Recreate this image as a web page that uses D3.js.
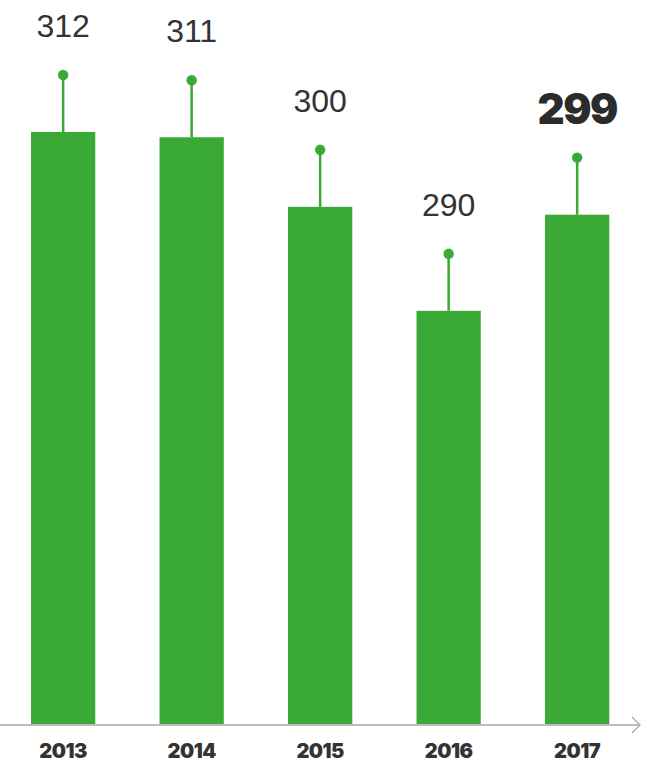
<!DOCTYPE html>
<html>
<head>
<meta charset="utf-8">
<script src="https://cdn.jsdelivr.net/npm/d3@7"></script>
<style>
  html, body { margin: 0; padding: 0; background: #fff; }
  svg { display: block; }
</style>
</head>
<body>
<svg id="chart" width="647" height="762"></svg>
<script>
// Yearly values
const years = ["2013", "2014", "2015", "2016", "2017"];
const values = [312, 311, 300, 290, 299];
const highlightYear = "2017";

const baseY = 724;
const green = "#3aa935";
const ink = "#333333";
const heavyFont = "Inter, 'Open Sans', sans-serif";

const svg = d3.select("#chart");

const x = d3.scaleBand()
  .domain(years)
  .range([-1.1, 641.4])
  .paddingInner(0.5)
  .paddingOuter(0.25);

// Compressed value axis: bar height grows with (value - floor) ^ 0.253
const floor = 283;
const y = d3.scalePow()
  .exponent(0.253)
  .domain([0, 312 - floor])
  .range([baseY, baseY - 592]);
const yv = v => y(v - floor);

const stemLen = 57;
const data = years.map((yr, i) => ({ year: yr, value: values[i] }));

// Bars
svg.append("g").selectAll("rect")
  .data(data)
  .join("rect")
  .attr("x", d => x(d.year))
  .attr("y", d => yv(d.value))
  .attr("width", x.bandwidth())
  .attr("height", d => baseY - yv(d.value))
  .attr("fill", green);

// Pins above each bar
const pins = svg.append("g").selectAll("g")
  .data(data)
  .join("g")
  .attr("transform", d => `translate(${x(d.year) + x.bandwidth() / 2},${yv(d.value)})`);

pins.append("line")
  .attr("x1", 0).attr("x2", 0)
  .attr("y1", 0).attr("y2", -stemLen)
  .attr("stroke", green)
  .attr("stroke-width", 2.5);

pins.append("circle")
  .attr("cx", 0).attr("cy", -stemLen)
  .attr("r", 5.2)
  .attr("fill", green);

// Value labels
pins.append("text")
  .attr("x", 0)
  .attr("y", d => d.year === highlightYear ? -stemLen - 34 : -stemLen - 38)
  .attr("text-anchor", "middle")
  .attr("fill", d => d.year === highlightYear ? "#2b2b2b" : ink)
  .attr("font-family", d => d.year === highlightYear ? heavyFont : "'Liberation Sans', Arial, sans-serif")
  .attr("font-weight", d => d.year === highlightYear ? 900 : 400)
  .attr("font-style", "normal")
  .attr("font-size", d => d.year === highlightYear ? 42 : 32)
  .attr("letter-spacing", d => d.year === highlightYear ? -1.5 : 0)
  .text(d => d.value);

// Baseline axis with arrow
const axis = svg.append("g");
axis.append("line")
  .attr("x1", 0).attr("x2", 640)
  .attr("y1", baseY + 1).attr("y2", baseY + 1)
  .attr("stroke", "#a8a8a8")
  .attr("stroke-width", 1.5);
axis.append("path")
  .attr("d", `M632,${baseY - 7} L640,${baseY + 1} L632,${baseY + 9}`)
  .attr("fill", "none")
  .attr("stroke", "#a8a8a8")
  .attr("stroke-width", 1.3);

// Year labels
svg.append("g").selectAll("text")
  .data(years)
  .join("text")
  .attr("x", d => x(d) + x.bandwidth() / 2)
  .attr("y", 758)
  .attr("text-anchor", "middle")
  .attr("fill", ink)
  .attr("font-family", heavyFont)
  .attr("font-weight", 900)
  .attr("font-size", 20)
  .attr("letter-spacing", -0.5)
  .text(d => d);
</script>
</body>
</html>
